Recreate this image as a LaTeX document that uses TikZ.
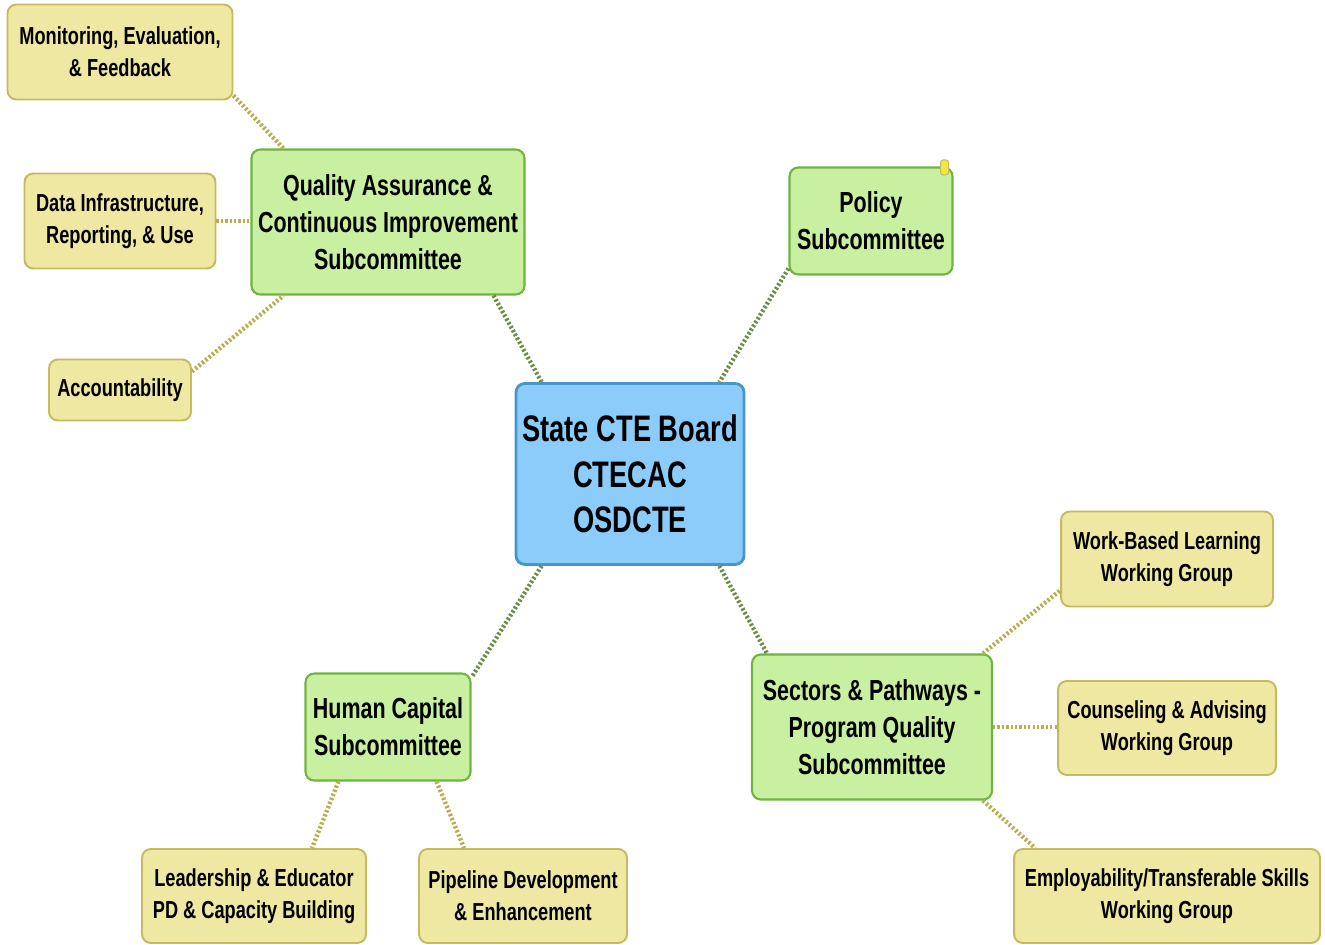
\documentclass[tikz,border=0pt]{standalone}
\usepackage{fontspec}
\setmainfont[FakeStretch=0.74]{Liberation Sans}
\definecolor{ctrblue}{RGB}{140, 204, 250}
\definecolor{ctredge}{RGB}{70, 150, 200}
\definecolor{subgreen}{RGB}{200, 240, 160}
\definecolor{subedge}{RGB}{110, 180, 65}
\definecolor{wgyellow}{RGB}{238, 232, 162}
\definecolor{wgedge}{RGB}{196, 186, 96}
\definecolor{linkgreen}{RGB}{110, 140, 70}
\definecolor{linkolive}{RGB}{180, 175, 80}
\definecolor{noteyellow}{RGB}{240, 232, 60}
\usetikzlibrary{positioning, calc}
\tikzset{
  ctrbox/.style={draw=ctredge, line width=1.6pt, fill=ctrblue, rounded corners=5pt, align=center, inner sep=2pt, font=\bfseries\fontsize{21}{26}\selectfont},
  subbox/.style={draw=subedge, line width=1.2pt, fill=subgreen, rounded corners=5pt, align=center, inner sep=2pt, font=\bfseries\fontsize{16.5}{21}\selectfont},
  wgbox/.style={draw=wgedge, line width=1.1pt, fill=wgyellow, rounded corners=5pt, align=center, inner sep=2pt, font=\bfseries\fontsize{14}{18}\selectfont},
  mainlink/.style={draw=linkgreen, line width=2.5pt, dash pattern=on 1.3pt off 1.2pt},
  sublink/.style={draw=linkolive, line width=2.5pt, dash pattern=on 1.3pt off 1.2pt},
  notebox/.style={draw=wgedge, line width=0.6pt, fill=noteyellow, rounded corners=1.5pt, minimum width=0.16cm, minimum height=0.3cm, inner sep=0pt}
}

\begin{document}
\begin{tikzpicture}[x=0.02cm, y=-0.02cm]
  \useasboundingbox (0,0) rectangle (1325,945);

  % Centre
  \node[ctrbox, minimum width=4.56cm, minimum height=3.62cm] (ctr) at (630,474) {State CTE Board\\CTECAC\\OSDCTE};

  % Subcommittees
  \node[subbox, minimum width=5.46cm, minimum height=2.9cm] (qa) at (388,222) {Quality Assurance \&\\Continuous Improvement\\Subcommittee};
  \node[subbox, minimum width=3.26cm, minimum height=2.14cm] (pol) at (871,221) {Policy\\Subcommittee};
  \node[subbox, minimum width=3.3cm, minimum height=2.14cm] (hc) at (388,727) {Human Capital\\Subcommittee};
  \node[subbox, minimum width=4.8cm, minimum height=2.9cm] (sec) at (872,727) {Sectors \& Pathways -\\Program Quality\\Subcommittee};
  \node[notebox] (note) at ([xshift=-0.18cm, yshift=-0.02cm]pol.north east) {};

  % Working groups
  \node[wgbox, minimum width=4.5cm, minimum height=1.9cm] (mon) at (120,52) {Monitoring, Evaluation,\\\& Feedback};
  \node[wgbox, minimum width=3.82cm, minimum height=1.9cm] (data) at (120,221) {Data Infrastructure,\\Reporting, \& Use};
  \node[wgbox, minimum width=2.84cm, minimum height=1.22cm] (acc) at (120,390) {Accountability};
  \node[wgbox, minimum width=4.48cm, minimum height=1.88cm] (lead) at (254,896) {Leadership \& Educator\\PD \& Capacity Building};
  \node[wgbox, minimum width=4.16cm, minimum height=1.88cm] (pipe) at (523,896) {Pipeline Development\\\& Enhancement};
  \node[wgbox, minimum width=4.24cm, minimum height=1.9cm] (wbl) at (1167,559) {Work-Based Learning\\Working Group};
  \node[wgbox, minimum width=4.36cm, minimum height=1.88cm] (coun) at (1167,728) {Counseling \& Advising\\Working Group};
  \node[wgbox, minimum width=6.12cm, minimum height=1.88cm] (emp) at (1167,896) {Employability/Transferable Skills\\Working Group};

  % Centre links
  \draw[mainlink] ([xshift=-0.64cm]qa.south east) -- ([xshift=0.54cm]ctr.north west);
  \draw[mainlink] ([yshift=0.14cm]pol.south west) -- ([xshift=-0.52cm]ctr.north east);
  \draw[mainlink] ([xshift=0.54cm]ctr.south west) -- ([yshift=-0.1cm]hc.north east);
  \draw[mainlink] ([xshift=-0.52cm]ctr.south east) -- ([xshift=0.32cm]sec.north west);

  % Working group links
  \draw[sublink] ([yshift=0.1cm]mon.south east) -- ([xshift=0.66cm]qa.north west);
  \draw[sublink] (data.east) -- (data.east -| qa.west);
  \draw[sublink] ([yshift=-0.26cm]acc.north east) -- ([xshift=0.66cm]qa.south west);
  \draw[sublink] ([xshift=0.68cm]hc.south west) -- ([xshift=1.16cm]lead.north);
  \draw[sublink] ([xshift=-0.7cm]hc.south east) -- ([xshift=0.92cm]pipe.north west);
  \draw[sublink] ([xshift=-0.2cm]sec.north east) -- ([yshift=0.34cm]wbl.south west);
  \draw[sublink] (sec.east) -- (sec.east -| coun.west);
  \draw[sublink] ([xshift=-0.2cm]sec.south east) -- ([xshift=0.44cm]emp.north west);
\end{tikzpicture}
\end{document}
